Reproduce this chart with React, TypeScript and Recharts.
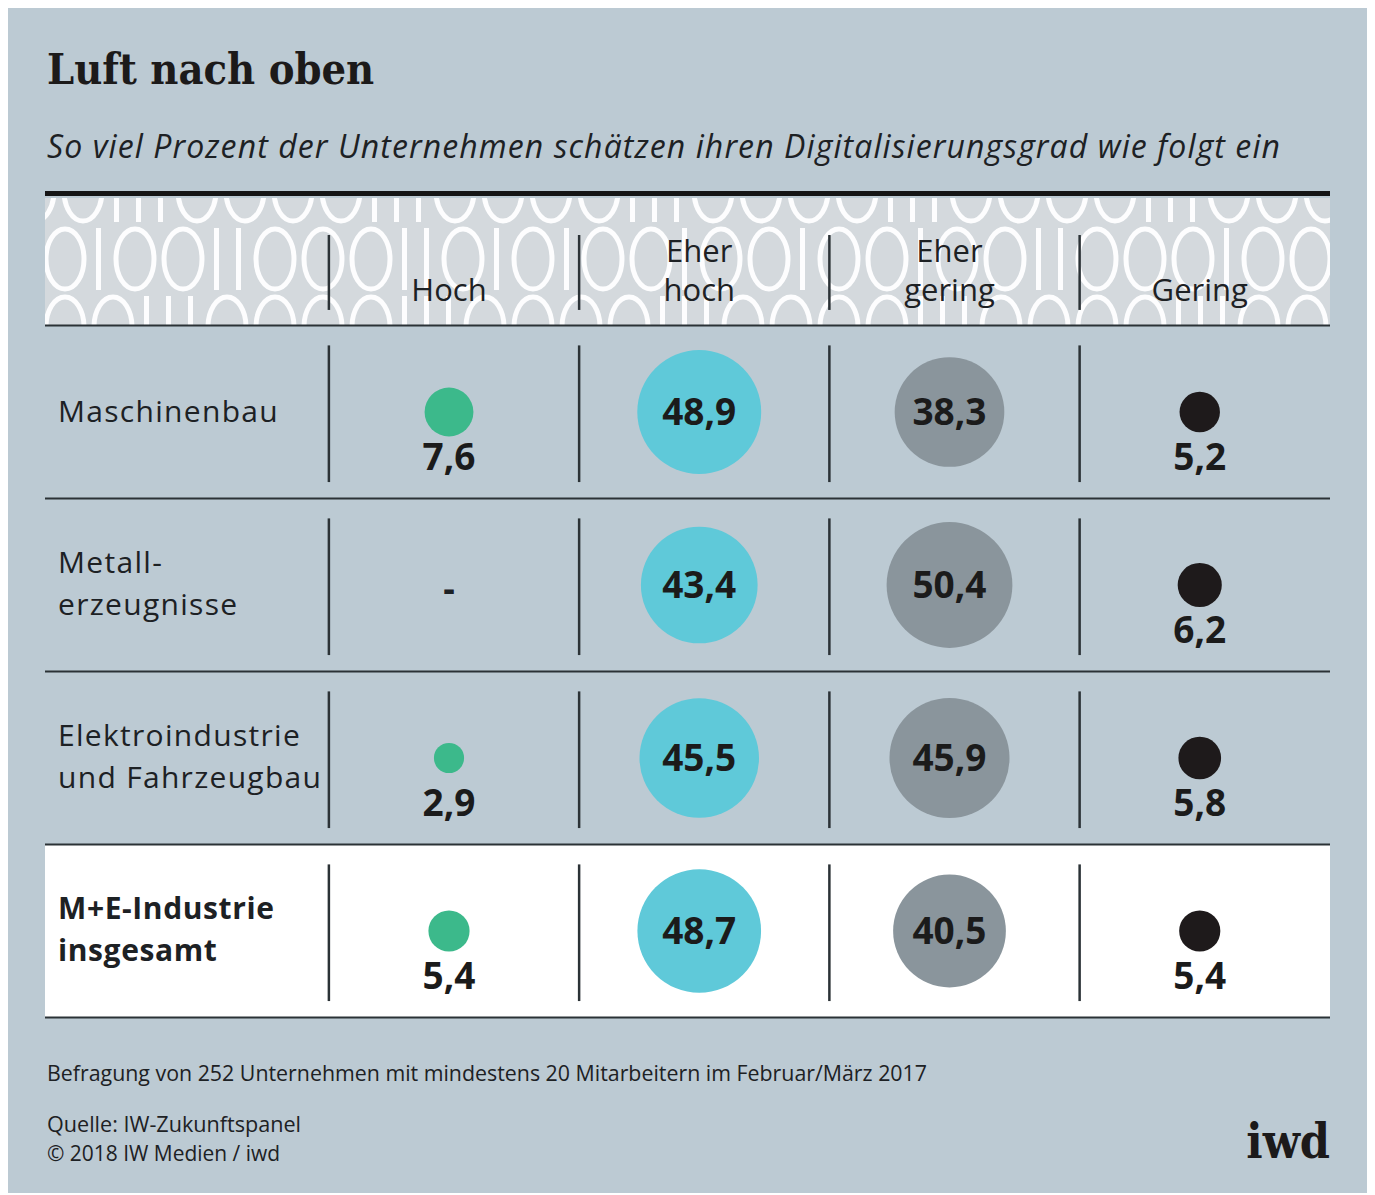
import React from 'react';
import {
  ScatterChart,
  Scatter,
  XAxis,
  YAxis,
  ZAxis,
  ReferenceLine,
  ReferenceArea,
  Customized,
} from 'recharts';

// ---------- data ----------
const columnLabels = [['Hoch'], ['Eher', 'hoch'], ['Eher', 'gering'], ['Gering']];
const rowLabels = [
  ['Maschinenbau'],
  ['Metall-', 'erzeugnisse'],
  ['Elektroindustrie', 'und Fahrzeugbau'],
  ['M+E-Industrie', 'insgesamt'],
];
const hoch: (number | null)[] = [7.6, null, 2.9, 5.4];
const eherHoch: (number | null)[] = [48.9, 43.4, 45.5, 48.7];
const eherGering: (number | null)[] = [38.3, 50.4, 45.9, 40.5];
const gering: (number | null)[] = [5.2, 6.2, 5.8, 5.4];
const seriesColors = ['#3cb98b', '#5fc9d9', '#8a959c', '#1e1a1b'];

const title = 'Luft nach oben';
const subtitle = 'So viel Prozent der Unternehmen schätzen ihren Digitalisierungsgrad wie folgt ein';
const note = 'Befragung von 252 Unternehmen mit mindestens 20 Mitarbeitern im Februar/März 2017';
const source = 'Quelle: IW-Zukunftspanel';
const copyright = '© 2018 IW Medien / iwd';

const seriesValues = [hoch, eherHoch, eherGering, gering];

const FONT = "'Open Sans', 'Noto Sans', sans-serif";
const SLAB = "'DejaVu Serif Condensed', 'DejaVu Serif', serif";
const TEXT = '#1d2124';
const LINE = '#2b3236';

// ---------- decorative header pattern ----------
const patternTop = '0011100001110000111000011100001110000111000';
const patternMid = '0100110001101010010010010011000100110100';
const patternBot = '0011100001110000111000011100001110000111';

function patternRow(str: string, x0: number, cy: number, key: string) {
  const out: React.ReactNode[] = [];
  let x = x0;
  str.split('').forEach((ch, i) => {
    if (ch === '0') {
      out.push(
        <ellipse key={key + i} cx={x + 21} cy={cy} rx={19} ry={30} fill="none" stroke="#ffffff" strokeWidth={5} />
      );
      x += 48;
    } else {
      out.push(<rect key={key + i} x={x + 4} y={cy - 31} width={5} height={62} fill="#ffffff" />);
      x += 22;
    }
  });
  return out;
}

const Decor = () => (
  <g>
    <text x={39} y={76} fontFamily={SLAB} fontWeight="bold" fontSize={43} fill="#1c1a1a">
      {title}
    </text>
    <text
      x={39}
      y={150}
      fontFamily={FONT}
      fontStyle="italic"
      fontSize={32}
      fill={TEXT}
      textLength={1233}
      lengthAdjust="spacing"
    >
      {subtitle}
    </text>
    <rect x={37} y={183} width={1285} height={5} fill="#151515" />
    <defs>
      <clipPath id="hdrclip">
        <rect x={37} y={190} width={1285} height={127.5} />
      </clipPath>
    </defs>
    <rect x={37} y={190} width={1285} height={127.5} fill="#d4dadd" />
    <g clipPath="url(#hdrclip)" opacity={0.95}>
      {patternRow(patternTop, 6, 183, 't')}
      {patternRow(patternMid, 36, 251, 'm')}
      {patternRow(patternBot, 36, 319, 'b')}
    </g>
    <text x={39} y={1073} fontFamily={FONT} fontSize={22} fill={TEXT} textLength={880} lengthAdjust="spacingAndGlyphs">
      {note}
    </text>
    <text x={39} y={1124} fontFamily={FONT} fontSize={22} fill={TEXT} textLength={254} lengthAdjust="spacingAndGlyphs">
      {source}
    </text>
    <text x={39} y={1153} fontFamily={FONT} fontSize={22} fill={TEXT} textLength={233} lengthAdjust="spacingAndGlyphs">
      {copyright}
    </text>
    <text x={1322} y={1150} textAnchor="end" fontFamily={SLAB} fontWeight="bold" fontSize={48} fill="#1c1a1a">
      iwd
    </text>
  </g>
);

// ---------- ticks ----------
const HeaderTick = (props: any) => {
  const { x, payload } = props;
  const lines = columnLabels[Math.round(payload.value)] || [];
  const baselines = lines.length === 1 ? [293] : [254, 293];
  return (
    <g>
      {lines.map((l, i) => (
        <text key={i} x={x} y={baselines[i]} textAnchor="middle" fontFamily={FONT} fontSize={31} fill={TEXT}>
          {l}
        </text>
      ))}
    </g>
  );
};

const RowTick = (props: any) => {
  const { y, payload } = props;
  const idx = Math.round(payload.value);
  const lines = rowLabels[idx] || [];
  const offs = lines.length === 1 ? [10] : [-12, 30];
  const bold = idx === rowLabels.length - 1;
  return (
    <g>
      {lines.map((l, i) => (
        <text
          key={i}
          x={50}
          y={y + offs[i]}
          textAnchor="start"
          fontFamily={FONT}
          fontSize={30}
          fontWeight={bold ? 'bold' : 'normal'}
          letterSpacing={bold ? 0.6 : 1.3}
          fill={TEXT}
        >
          {l}
        </text>
      ))}
    </g>
  );
};

// ---------- bubble ----------
const Bubble = (props: any) => {
  const { cx, cy, width, payload, color } = props;
  const v = payload.v;
  if (v == null) {
    return (
      <text x={cx} y={cy + 16} textAnchor="middle" fontFamily={FONT} fontWeight="bold" fontSize={36} fill={TEXT}>
        -
      </text>
    );
  }
  const r = (width || 0) / 2;
  const label = v.toFixed(1).replace('.', ',');
  const inside = v >= 20;
  return (
    <g>
      <circle cx={cx} cy={cy} r={r} fill={color} />
      <text
        x={cx}
        y={inside ? cy + 13 : cy + 58}
        textAnchor="middle"
        fontFamily={FONT}
        fontWeight="bold"
        fontSize={37}
        fill="#1b1b1b"
      >
        {label}
      </text>
    </g>
  );
};

export default function App() {
  const seriesData = seriesValues.map((vals, c) =>
    vals.map((v, r) => ({ x: c, y: r, z: v == null ? 0 : v, v }))
  );
  const sepX = columnLabels.map((_, i) => i - 0.5 + 0.02);
  const rowIdx = rowLabels.map((_, i) => i);
  const hLines = [-0.5, ...rowIdx.map((i) => i + 0.5)];

  return (
    <div style={{ width: 1362, height: 1185, background: '#bccad3' }}>
      <ScatterChart
        width={1362}
        height={1185}
        margin={{ top: 317.5, right: 40, bottom: 175.5, left: 37 }}
      >
        <Customized component={<Decor />} />
        <XAxis
          type="number"
          dataKey="x"
          orientation="top"
          domain={[-1.6144, 3.5205]}
          ticks={[0, 1, 2, 3]}
          interval={0}
          axisLine={false}
          tickLine={false}
          mirror
          allowDataOverflow
          tick={<HeaderTick />}
        />
        <YAxis
          type="number"
          dataKey="y"
          domain={[-0.5, 3.5]}
          reversed
          ticks={[0, 1, 2, 3]}
          interval={0}
          axisLine={false}
          tickLine={false}
          mirror
          allowDataOverflow
          tick={<RowTick />}
        />
        <ZAxis type="number" dataKey="z" domain={[0, 60]} range={[0, 14796]} />
        <ReferenceArea y1={2.5} y2={3.5} fill="#ffffff" fillOpacity={1} stroke="none" />
        {hLines.map((y) => (
          <ReferenceLine key={'h' + y} y={y} stroke={LINE} strokeWidth={2} />
        ))}
        {sepX.map((x) => (
          <ReferenceLine
            key={'hs' + x}
            segment={[
              { x, y: -1.023 },
              { x, y: -0.59 },
            ]}
            stroke={LINE}
            strokeWidth={2.5}
            ifOverflow="visible"
          />
        ))}
        {sepX.map((x) =>
          rowIdx.map((r) => (
            <ReferenceLine
              key={'s' + x + '-' + r}
              segment={[
                { x, y: r - 0.5 + 0.115 },
                { x, y: r + 0.5 - 0.095 },
              ]}
              stroke={LINE}
              strokeWidth={2.5}
              ifOverflow="visible"
            />
          ))
        )}
        {seriesData.map((d, i) => (
          <Scatter
            key={i}
            data={d}
            fill={seriesColors[i]}
            isAnimationActive={false}
            shape={(p: any) => <Bubble {...p} color={seriesColors[i]} />}
          />
        ))}
      </ScatterChart>
    </div>
  );
}
